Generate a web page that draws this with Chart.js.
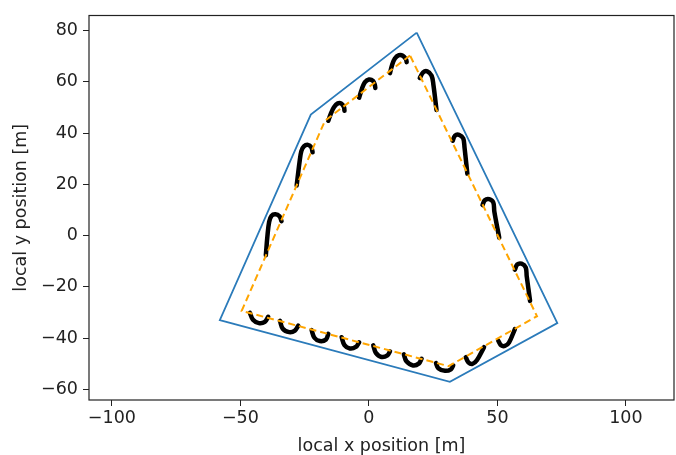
<!DOCTYPE html>
<html><head><meta charset="utf-8">
<script src="https://cdn.jsdelivr.net/npm/chart.js@4/dist/chart.umd.min.js"></script>
<style>html,body{margin:0;padding:0;background:#fff}</style>
</head><body>
<canvas id="c" width="676" height="455"></canvas>
<script>
// ---- data ----
const xTicks = [-100, -50, 0, 50, 100];
const yTicks = [-60, -40, -20, 0, 20, 40, 60, 80];
const xRange = [-108.9, 118.7];
const yRange = [-64.2, 85.9];

// outer boundary (blue)
const boundaryX = [18.6, -22.6, -58.0, 31.5, 73.3, 18.6];
const boundaryY = [79.2, 47.2, -33.0, -57.1, -34.2, 79.2];

// planned path (orange dashed)
const pathX = [16.0, -17.1, -49.5, 31.0, 65.4, 16.0];
const pathY = [70.3, 44.8, -29.4, -51.0, -31.5, 70.3];

// turn manoeuvres (black), each as [x, y] points
const turnA = [[-28.1,19.5],[-27.0,28.6],[-26.3,32.9],[-25.3,34.8],[-23.7,35.4],[-22.4,34.4],[-21.9,32.5]];
const turnB = [[-40.1,-7.7],[-39.5,-0.4],[-38.8,5.4],[-37.9,7.7],[-36.4,8.3],[-34.8,7.5],[-34.0,5.6]];
const turnC = [[-15.8,44.8],[-14.8,47.6],[-13.6,50.1],[-12.1,51.6],[-10.7,51.5],[-9.7,50.1],[-9.5,48.7]];
const turnD = [[-3.8,53.8],[-2.7,57.3],[-1.6,59.8],[0.0,60.9],[1.6,60.4],[2.3,58.8],[2.5,57.6]];
const turnE = [[8.2,63.4],[9.0,66.5],[10.1,69.1],[11.7,70.4],[13.2,70.2],[14.4,68.9],[14.7,67.7]];
const turnF = [[19.8,61.5],[21.1,63.7],[22.7,64.1],[24.4,62.4],[25.1,58.8],[26.3,49.0]];
const turnG = [[32.6,37.0],[33.5,39.0],[35.1,39.3],[36.7,37.9],[37.2,34.4],[38.3,24.1]];
const turnH = [[44.2,11.9],[45.1,13.8],[46.8,14.2],[48.4,12.9],[48.8,9.3],[50.7,-0.8]];
const turnI = [[56.8,-13.3],[57.7,-11.3],[59.4,-11.0],[61.0,-12.4],[61.4,-15.9],[62.7,-25.5]];
const turnJ = [[-46.3,-30.2],[-45.1,-32.9],[-42.8,-34.2],[-40.5,-33.7],[-39.2,-31.7]];
const turnK = [[-34.6,-33.3],[-33.5,-36.4],[-31.0,-37.7],[-28.8,-37.1],[-27.5,-35.2]];
const turnL = [[-22.3,-36.9],[-21.2,-39.9],[-19.1,-41.2],[-16.7,-40.6],[-15.8,-38.4]];
const turnM = [[-10.6,-39.7],[-9.5,-42.8],[-7.4,-44.1],[-5.1,-43.5],[-3.8,-41.7]];
const turnN = [[1.7,-42.9],[2.7,-45.8],[4.9,-47.4],[7.2,-46.8],[8.2,-45.2]];
const turnO = [[13.6,-46.4],[14.6,-49.1],[17.2,-50.7],[19.5,-49.9],[20.5,-48.1]];
const turnP = [[26.1,-49.8],[27.0,-51.8],[29.6,-52.8],[31.9,-52.2],[32.8,-50.7]];
const turnQ = [[37.7,-47.5],[38.7,-49.5],[40.3,-50.1],[42.0,-48.7],[44.8,-43.6]];
const turnR = [[50.3,-41.0],[51.4,-42.8],[52.9,-43.1],[54.5,-41.8],[56.8,-36.5]];
const turns = [turnA,turnB,turnC,turnD,turnE,turnF,turnG,turnH,turnI,turnJ,turnK,turnL,turnM,turnN,turnO,turnP,turnQ,turnR];

// ---- chart ----
const toPts = (xs, ys) => xs.map((x, i) => ({x: x, y: ys[i]}));
const datasets = [];
datasets.push({data: toPts(pathX, pathY), borderColor: '#FFA500', borderWidth: 2, borderDash: [7, 4],
  showLine: true, pointRadius: 0, tension: 0, order: 0});
turns.forEach(t => datasets.push({data: t.map(p => ({x: p[0], y: p[1]})), borderColor: '#000', borderWidth: 4.5,
  borderCapStyle: 'round', borderJoinStyle: 'round', showLine: true, pointRadius: 0, tension: 0.35, order: 1}));
datasets.push({data: toPts(boundaryX, boundaryY), borderColor: '#2b7bba', borderWidth: 1.8,
  showLine: true, pointRadius: 0, tension: 0, order: 2});

const fmt = v => (v < 0 ? '\u2212' + Math.abs(v) : String(v));
const FONT = 'DejaVu Sans';
const txt = '#222';

const frame = {id: 'frame', afterDatasetsDraw(chart) {
  const {ctx, chartArea: a} = chart;
  ctx.save(); ctx.strokeStyle = '#222'; ctx.lineWidth = 1.2;
  ctx.strokeRect(a.left, a.top, a.right - a.left, a.bottom - a.top); ctx.restore();
}};

new Chart(document.getElementById('c'), {
  type: 'scatter',
  data: {datasets: datasets},
  plugins: [frame],
  options: {
    responsive: false, animation: false,
    layout: {padding: {top: 12, right: 2, left: 0, bottom: 0}},
    plugins: {legend: {display: false}, tooltip: {enabled: false}},
    scales: {
      x: {type: 'linear', min: xRange[0], max: xRange[1],
        afterFit: s => { s.height = 55; },
        afterBuildTicks: s => { s.ticks = xTicks.map(v => ({value: v})); },
        grid: {display: true, drawOnChartArea: false, drawTicks: true, tickLength: 6, color: '#222', lineWidth: 1},
        border: {display: false},
        ticks: {font: {family: FONT, size: 17.5}, color: txt, padding: 2, maxRotation: 0, autoSkip: false, callback: fmt},
        title: {display: true, text: 'local x position [m]', color: txt,
          font: {family: FONT, size: 17.5, lineHeight: 1.0}, padding: {top: 0, bottom: 0}}
      },
      y: {type: 'linear', min: yRange[0], max: yRange[1],
        afterFit: s => { s.width = 89; },
        afterBuildTicks: s => { s.ticks = yTicks.map(v => ({value: v})); },
        grid: {display: true, drawOnChartArea: false, drawTicks: true, tickLength: 6, color: '#222', lineWidth: 1},
        border: {display: false},
        ticks: {font: {family: FONT, size: 17.5}, color: txt, padding: 5, autoSkip: false, callback: fmt},
        title: {display: true, text: 'local y position [m]', color: txt,
          font: {family: FONT, size: 17.5, lineHeight: 1.2}, padding: {top: 11, bottom: 0}}
      }
    }
  }
});
</script>
</body></html>
